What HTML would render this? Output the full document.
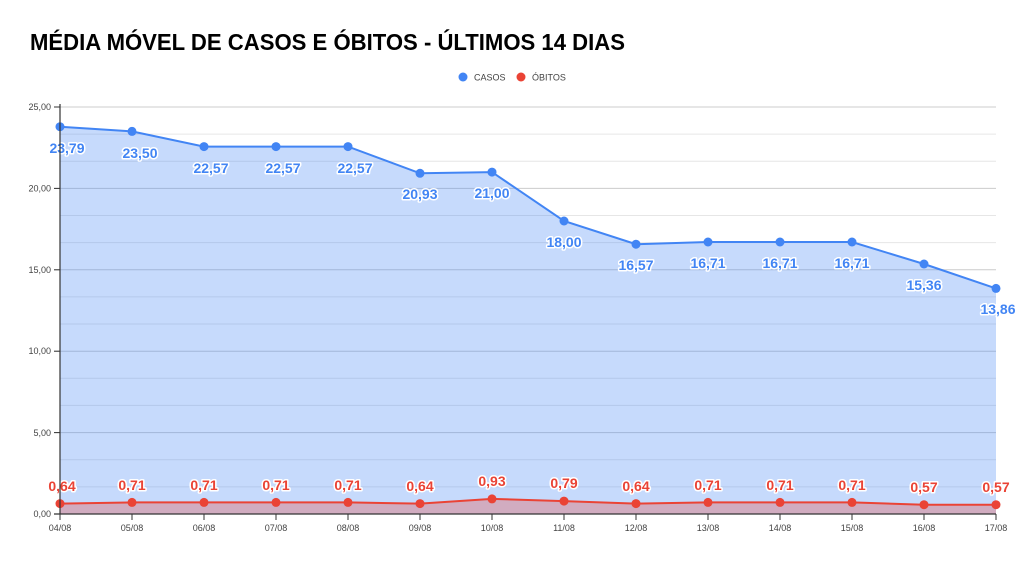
<!DOCTYPE html>
<html><head><meta charset="utf-8"><style>
html,body{margin:0;padding:0;background:#fff;}
svg{display:block;font-family:"Liberation Sans",Arial,sans-serif;}
.lb{font-size:14px;font-weight:bold;text-anchor:middle;paint-order:stroke;stroke:#fff;stroke-width:3px;stroke-linejoin:round;}
.ax{font-size:9px;fill:#444;}
</style></head><body>
<svg width="1024" height="562" viewBox="0 0 1024 562">
<text x="30" y="50" font-size="23" font-weight="bold" fill="#000" textLength="595" lengthAdjust="spacingAndGlyphs">MÉDIA MÓVEL DE CASOS E ÓBITOS - ÚLTIMOS 14 DIAS</text>
<circle cx="463" cy="77" r="4.5" fill="#4285f4"/>
<text x="474" y="80.5" font-size="9" fill="#444">CASOS</text>
<circle cx="521" cy="77" r="4.5" fill="#ea4335"/>
<text x="532" y="80.5" font-size="9" fill="#444">ÓBITOS</text>
<g stroke="#e6e6e6" stroke-width="1">
<line x1="60" x2="996" y1="134.1" y2="134.1"/><line x1="60" x2="996" y1="161.3" y2="161.3"/>
<line x1="60" x2="996" y1="215.5" y2="215.5"/><line x1="60" x2="996" y1="242.6" y2="242.6"/>
<line x1="60" x2="996" y1="296.9" y2="296.9"/><line x1="60" x2="996" y1="324.0" y2="324.0"/>
<line x1="60" x2="996" y1="378.3" y2="378.3"/><line x1="60" x2="996" y1="405.4" y2="405.4"/>
<line x1="60" x2="996" y1="459.7" y2="459.7"/><line x1="60" x2="996" y1="486.9" y2="486.9"/>
</g>
<g stroke="#cccccc" stroke-width="1">
<line x1="54" x2="996" y1="107" y2="107"/><line x1="54" x2="996" y1="188.4" y2="188.4"/>
<line x1="54" x2="996" y1="269.8" y2="269.8"/><line x1="54" x2="996" y1="351.2" y2="351.2"/>
<line x1="54" x2="996" y1="432.6" y2="432.6"/>
</g>
<polygon fill="#4285f4" fill-opacity="0.3" points="60,514 60,126.7 132,131.4 204,146.6 276,146.6 348,146.6 420,173.3 492,172.1 564,221 636,244.2 708,242 780,242 852,242 924,264 996,288.4 996,514"/>
<polygon fill="#ea4335" fill-opacity="0.3" points="60,514 60,503.6 132,502.4 204,502.4 276,502.4 348,502.4 420,503.6 492,498.9 564,501.1 636,503.6 708,502.4 780,502.4 852,502.4 924,504.7 996,504.7 996,514"/>
<g stroke="#bbb" stroke-width="1" fill="none" opacity="0.6">
</g>
<polyline fill="none" stroke="#4285f4" stroke-width="2" points="60,126.7 132,131.4 204,146.6 276,146.6 348,146.6 420,173.3 492,172.1 564,221 636,244.2 708,242 780,242 852,242 924,264 996,288.4"/>
<polyline fill="none" stroke="#ea4335" stroke-width="2" points="60,503.6 132,502.4 204,502.4 276,502.4 348,502.4 420,503.6 492,498.9 564,501.1 636,503.6 708,502.4 780,502.4 852,502.4 924,504.7 996,504.7"/>
<g fill="#4285f4">
<circle cx="60" cy="126.7" r="4.5"/><circle cx="132" cy="131.4" r="4.5"/><circle cx="204" cy="146.6" r="4.5"/><circle cx="276" cy="146.6" r="4.5"/><circle cx="348" cy="146.6" r="4.5"/><circle cx="420" cy="173.3" r="4.5"/><circle cx="492" cy="172.1" r="4.5"/><circle cx="564" cy="221" r="4.5"/><circle cx="636" cy="244.2" r="4.5"/><circle cx="708" cy="242" r="4.5"/><circle cx="780" cy="242" r="4.5"/><circle cx="852" cy="242" r="4.5"/><circle cx="924" cy="264" r="4.5"/><circle cx="996" cy="288.4" r="4.5"/>
</g>
<g fill="#ea4335">
<circle cx="60" cy="503.6" r="4.5"/><circle cx="132" cy="502.4" r="4.5"/><circle cx="204" cy="502.4" r="4.5"/><circle cx="276" cy="502.4" r="4.5"/><circle cx="348" cy="502.4" r="4.5"/><circle cx="420" cy="503.6" r="4.5"/><circle cx="492" cy="498.9" r="4.5"/><circle cx="564" cy="501.1" r="4.5"/><circle cx="636" cy="503.6" r="4.5"/><circle cx="708" cy="502.4" r="4.5"/><circle cx="780" cy="502.4" r="4.5"/><circle cx="852" cy="502.4" r="4.5"/><circle cx="924" cy="504.7" r="4.5"/><circle cx="996" cy="504.7" r="4.5"/>
</g>
<g class="lb" fill="#4285f4">
<text x="67" y="153">23,79</text><text x="140" y="158">23,50</text><text x="211" y="173">22,57</text><text x="283" y="173">22,57</text><text x="355" y="173">22,57</text><text x="420" y="199">20,93</text><text x="492" y="198">21,00</text><text x="564" y="247">18,00</text><text x="636" y="270">16,57</text><text x="708" y="268">16,71</text><text x="780" y="268">16,71</text><text x="852" y="268">16,71</text><text x="924" y="290">15,36</text><text x="998" y="314">13,86</text>
</g>
<g class="lb" fill="#ea4335">
<text x="62" y="491">0,64</text><text x="132" y="490">0,71</text><text x="204" y="490">0,71</text><text x="276" y="490">0,71</text><text x="348" y="490">0,71</text><text x="420" y="491">0,64</text><text x="492" y="486">0,93</text><text x="564" y="488">0,79</text><text x="636" y="491">0,64</text><text x="708" y="490">0,71</text><text x="780" y="490">0,71</text><text x="852" y="490">0,71</text><text x="924" y="492">0,57</text><text x="996" y="492">0,57</text>
</g>
<line x1="60" y1="104" x2="60" y2="514" stroke="#333" stroke-width="1.2"/>
<line x1="54" y1="514" x2="996" y2="514" stroke="#333" stroke-width="1.2"/>
<g stroke="#333" stroke-width="1">
<line x1="54" x2="60" y1="107" y2="107"/><line x1="54" x2="60" y1="188.4" y2="188.4"/><line x1="54" x2="60" y1="269.8" y2="269.8"/><line x1="54" x2="60" y1="351.2" y2="351.2"/><line x1="54" x2="60" y1="432.6" y2="432.6"/>
<line x1="60" x2="60" y1="514" y2="520"/><line x1="132" x2="132" y1="514" y2="520"/><line x1="204" x2="204" y1="514" y2="520"/><line x1="276" x2="276" y1="514" y2="520"/><line x1="348" x2="348" y1="514" y2="520"/><line x1="420" x2="420" y1="514" y2="520"/><line x1="492" x2="492" y1="514" y2="520"/><line x1="564" x2="564" y1="514" y2="520"/><line x1="636" x2="636" y1="514" y2="520"/><line x1="708" x2="708" y1="514" y2="520"/><line x1="780" x2="780" y1="514" y2="520"/><line x1="852" x2="852" y1="514" y2="520"/><line x1="924" x2="924" y1="514" y2="520"/><line x1="996" x2="996" y1="514" y2="520"/>
</g>
<g class="ax" text-anchor="end">
<text x="51" y="110">25,00</text><text x="51" y="191.5">20,00</text><text x="51" y="273">15,00</text><text x="51" y="354">10,00</text><text x="51" y="436">5,00</text><text x="51" y="517">0,00</text>
</g>
<g class="ax" text-anchor="middle">
<text x="60" y="531">04/08</text><text x="132" y="531">05/08</text><text x="204" y="531">06/08</text><text x="276" y="531">07/08</text><text x="348" y="531">08/08</text><text x="420" y="531">09/08</text><text x="492" y="531">10/08</text><text x="564" y="531">11/08</text><text x="636" y="531">12/08</text><text x="708" y="531">13/08</text><text x="780" y="531">14/08</text><text x="852" y="531">15/08</text><text x="924" y="531">16/08</text><text x="996" y="531">17/08</text>
</g>
</svg>
</body></html>
